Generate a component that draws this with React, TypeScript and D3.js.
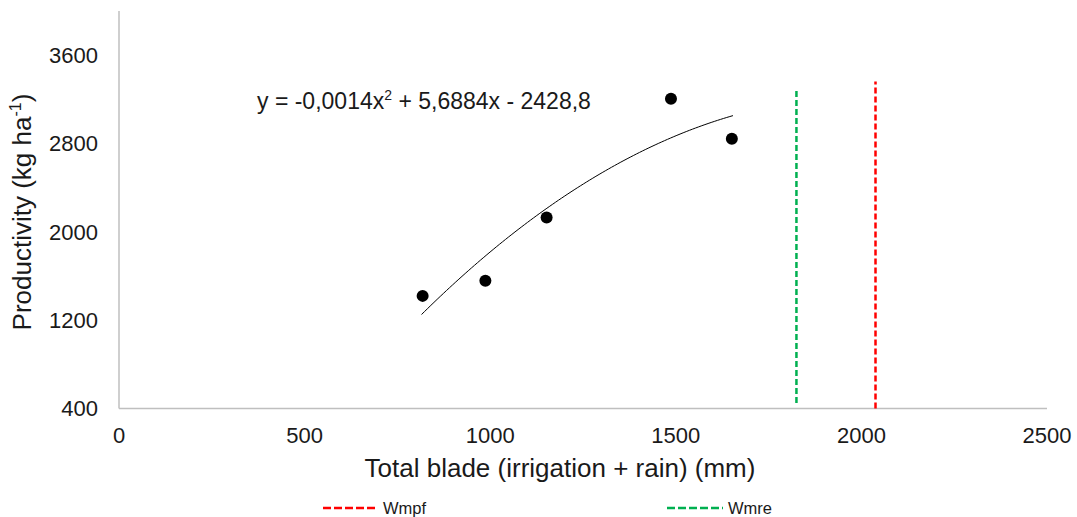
import React from "react";
import * as d3 from "d3";

const xTicks = [0, 500, 1000, 1500, 2000, 2500];
const yTicks = [400, 1200, 2000, 2800, 3600];
const bladeMm = [818, 987, 1152, 1487, 1651];
const productivity = [1420, 1556, 2130, 3206, 2843];
const wmpfX = 2038;
const wmpfRange = [400, 3362];
const wmreX = 1825;
const wmreRange = [450, 3303];
const coef = { a: -0.0014, b: 5.6884, c: -2428.8 };

function fitQuadratic(xs: number[], ys: number[]) {
  // least squares quadratic fit (trendline)
  const n = xs.length;
  let s0 = n, s1 = 0, s2 = 0, s3 = 0, s4 = 0, t0 = 0, t1 = 0, t2 = 0;
  for (let i = 0; i < n; i++) {
    const x = xs[i], y = ys[i];
    s1 += x; s2 += x * x; s3 += x ** 3; s4 += x ** 4;
    t0 += y; t1 += x * y; t2 += x * x * y;
  }
  const M = [
    [s4, s3, s2, t2],
    [s3, s2, s1, t1],
    [s2, s1, s0, t0],
  ];
  for (let i = 0; i < 3; i++) {
    let p = i;
    for (let r = i + 1; r < 3; r++) if (Math.abs(M[r][i]) > Math.abs(M[p][i])) p = r;
    [M[i], M[p]] = [M[p], M[i]];
    for (let r = 0; r < 3; r++) {
      if (r === i) continue;
      const f = M[r][i] / M[i][i];
      for (let c = i; c < 4; c++) M[r][c] -= f * M[i][c];
    }
  }
  return { a: M[0][3] / M[0][0], b: M[1][3] / M[1][1], c: M[2][3] / M[2][2] };
}

export default function App() {
  const W = 1077, H = 517;
  const x = d3.scaleLinear().domain([0, 2500]).range([119, 1047]);
  const y = d3.scaleLinear().domain([400, 4000]).range([408.5, 11]);
  const fit = fitQuadratic(bladeMm, productivity);
  const x0 = d3.min(bladeMm)! - 3, x1 = d3.max(bladeMm)! + 3;
  const curvePts = d3.range(0, 101).map((i) => {
    const xv = x0 + ((x1 - x0) * i) / 100;
    return [xv, fit.a * xv * xv + fit.b * xv + fit.c] as [number, number];
  });
  const line = d3.line<[number, number]>().x((d) => x(d[0])).y((d) => y(d[1]));
  const font = "'Liberation Sans', Arial, Helvetica, sans-serif";
  const axisColor = "#bfbfbf";
  return (
    <svg width={W} height={H} style={{ position: "absolute", left: 0, top: 0, background: "#fff" }} fontFamily={font}>
      {/* axes */}
      <line x1={x(0)} x2={x(0)} y1={y(4000)} y2={y(400)} stroke={axisColor} strokeWidth={1.5} />
      <line x1={x(0)} x2={x(2500)} y1={y(400)} y2={y(400)} stroke={axisColor} strokeWidth={1.5} />
      {yTicks.map((t) => (
        <text key={t} x={98} y={y(t)} dy="0.35em" textAnchor="end" fontSize={22} fill="#1a1a1a">{t}</text>
      ))}
      {xTicks.map((t) => (
        <text key={t} x={x(t)} y={443} textAnchor="middle" fontSize={22} fill="#1a1a1a">{t}</text>
      ))}
      <text x={560} y={477} textAnchor="middle" fontSize={26} fill="#1a1a1a">Total blade (irrigation + rain) (mm)</text>
      <text transform={`translate(31,212) rotate(-90)`} textAnchor="middle" fontSize={26} fill="#1a1a1a">
        Productivity (kg ha<tspan fontSize={16} dy={-10}>-1</tspan><tspan dy={10}>)</tspan>
      </text>
      {/* reference lines */}
      <line x1={x(wmreX)} x2={x(wmreX)} y1={y(wmreRange[0])} y2={y(wmreRange[1])} stroke="#00b050" strokeWidth={2.5} strokeDasharray="6,3" />
      <line x1={x(wmpfX)} x2={x(wmpfX)} y1={y(wmpfRange[0])} y2={y(wmpfRange[1])} stroke="#ff0000" strokeWidth={2.5} strokeDasharray="6,3" />
      {/* trendline */}
      <path d={line(curvePts) || ""} fill="none" stroke="#000" strokeWidth={1} />
      {bladeMm.map((b, i) => (
        <circle key={i} cx={x(b)} cy={y(productivity[i])} r={6} fill="#000" />
      ))}
      <text x={257} y={109} fontSize={23} fill="#1a1a1a">
        {`y = ${String(coef.a).replace(".", ",")}x`}
        <tspan fontSize={14} dy={-9}>2</tspan>
        <tspan dy={9}>{` + ${String(coef.b).replace(".", ",")}x - ${String(-coef.c).replace(".", ",")}`}</tspan>
      </text>
      {/* legend */}
      <line x1={323} x2={378} y1={508} y2={508} stroke="#ff0000" strokeWidth={2.5} strokeDasharray="8,3" />
      <text x={383} y={514} fontSize={16.5} fill="#1a1a1a">Wmpf</text>
      <line x1={667} x2={723} y1={508} y2={508} stroke="#00b050" strokeWidth={2.5} strokeDasharray="8,3" />
      <text x={728} y={514} fontSize={16.5} fill="#1a1a1a">Wmre</text>
    </svg>
  );
}
